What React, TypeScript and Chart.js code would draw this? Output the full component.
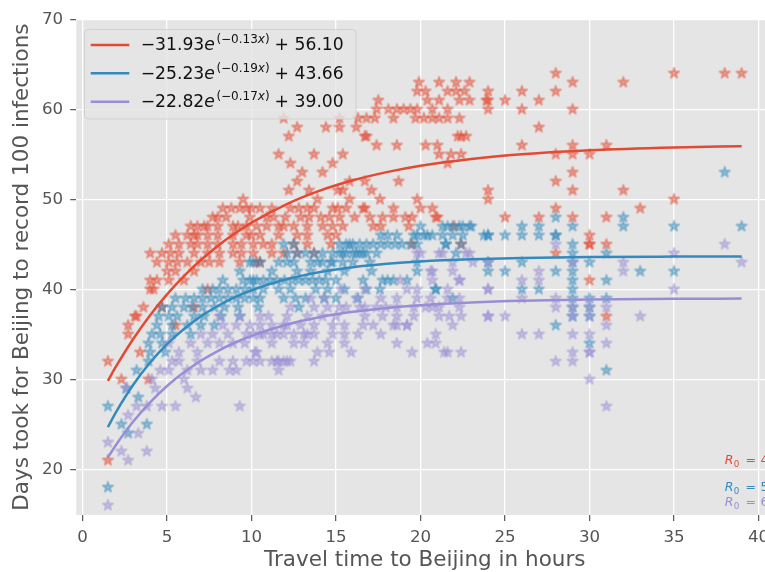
import React, { useEffect, useRef } from "react";
import { Chart, registerables } from "chart.js";

Chart.register(...registerables);

// ---------- data ----------
const xTicks = [0, 5, 10, 15, 20, 25, 30, 35, 40];
const yTicks = [20, 30, 40, 50, 60, 70];

// rows: [days, [travel hours ...]]
const redRows: [number, number[]][] = [
  [64, [28, 35, 38, 39]],
  [63, [19.9, 21.1, 22.1, 22.9, 29, 32]],
  [62, [19.8, 20.3, 21.6, 22.1, 22.6, 24, 26, 28]],
  [61, [17.5, 20.4, 21.1, 22.3, 22.9, 23.9, 24, 25, 27]],
  [60, [17.4, 18.1, 18.6, 19.0, 19.4, 19.8, 20.7, 21.6, 24, 26, 29]],
  [59, [11.9, 15.2, 16.3, 16.8, 17.3, 18.4, 19.7, 20.2, 20.7, 21.1, 21.6, 22.3]],
  [58, [12.7, 14.4, 15.2, 16.2, 27]],
  [57, [12.2, 16.7, 16.8, 22.2, 22.4, 22.7]],
  [56, [17.4, 18.6, 20.3, 21.0, 26, 29, 31]],
  [55, [11.6, 13.7, 15.4, 21.1, 21.8, 22.4, 28, 29, 30]],
  [54, [12.3, 14.8, 21.6]],
  [53, [13.0, 14.2, 29]],
  [52, [12.7, 15.8, 16.7, 18.7, 28]],
  [51, [12.2, 13.4, 15.1, 15.4, 17.1, 24, 29, 32]],
  [50, [9.5, 13.9, 15.8, 17.6, 19.8, 24, 35]],
  [49, [8.3, 8.8, 9.3, 9.7, 10.0, 10.5, 11.2, 12.3, 12.8, 13.3, 13.7, 14.8, 15.1, 15.6, 16.6, 16.7, 18.4, 20.0, 20.7, 28, 33]],
  [48, [7.7, 8.0, 8.5, 9.9, 10.9, 11.3, 12.0, 12.9, 13.4, 14.1, 14.6, 15.2, 16.1, 17.0, 17.75, 18.4, 19.1, 19.5, 20.9, 21.0, 25, 27, 29, 31]],
  [47, [6.4, 6.8, 7.2, 7.4, 8.0, 8.9, 9.2, 9.7, 10.3, 10.9, 11.6, 11.9, 12.5, 13.3, 14.2, 14.8, 15.4, 17.2, 17.65, 19.3, 22.0]],
  [46, [5.5, 6.2, 6.6, 6.8, 7.4, 8.0, 8.9, 9.7, 10.0, 10.5, 11.6, 12.7, 13.3, 14.5, 15.0, 30]],
  [45, [5.1, 5.7, 6.4, 6.8, 7.4, 8.0, 8.9, 9.4, 10.1, 10.7, 11.2, 12.5, 13.3, 14.7, 19.5, 22.4, 30, 30, 31]],
  [44, [4.0, 4.7, 5.2, 5.7, 6.6, 7.4, 8.1, 8.9, 9.4, 10.1, 11.2, 11.9, 12.7, 13.7, 28]],
  [43, [4.4, 5.1, 5.6, 6.2, 7.0, 7.5, 8.1, 9.3, 10.3, 10.5]],
  [42, [5.0, 5.5, 6.6]],
  [41, [4.0, 4.4, 5.1, 6.0, 30]],
  [40, [4.0, 4.2, 7.4]],
  [38, [3.6, 4.7, 6.6]],
  [37, [3.1, 3.2, 31]],
  [36, [2.7, 5.5]],
  [35, [2.7]],
  [33, [3.4]],
  [32, [1.5]],
  [30, [2.3, 3.9]],
  [21, [1.5]],
];

const blueRows: [number, number[]][] = [
  [53, [38]],
  [48, [28, 32]],
  [47, [20.0, 21.3, 21.6, 21.9, 22.3, 22.5, 22.9, 23.0, 26, 27, 29, 32, 35, 39]],
  [46, [17.65, 18.05, 18.6, 19.6, 19.8, 20.2, 20.4, 20.7, 21.3, 21.9, 22.5, 23.75, 24, 24, 25, 26, 27, 28, 28]],
  [45, [11.9, 12.5, 15.2, 15.6, 15.8, 16.0, 16.4, 16.8, 17.2, 17.65, 18.05, 18.5, 18.9, 19.4, 19.8, 21.5, 21.5, 22.4, 29]],
  [44, [12.1, 12.7, 13.2, 13.7, 14.2, 14.8, 15.2, 15.4, 15.6, 16.0, 16.2, 16.4, 16.6, 16.8, 17.4, 22.1, 29, 31]],
  [43, [9.9, 10.1, 10.5, 11.6, 12.1, 12.5, 13.5, 13.9, 14.2, 14.7, 14.8, 15.4, 16.0, 17.0, 19.8, 24, 26, 29, 30]],
  [42, [9.3, 11.2, 12.7, 13.5, 14.5, 15.5, 17.1, 19.8, 24, 25, 28, 29, 33, 35]],
  [41, [8.3, 9.5, 9.9, 10.1, 10.3, 10.7, 11.1, 11.5, 11.95, 12.4, 12.8, 13.2, 13.6, 14.0, 14.4, 15.0, 16.6, 17.75, 18.05, 18.4, 19.2, 29, 31]],
  [40, [7.1, 7.7, 8.1, 8.6, 9.1, 9.6, 10.1, 10.7, 11.6, 12.3, 13.8, 14.5, 15.5, 16.8, 17.6, 20.9, 20.9, 26, 27, 29]],
  [39, [5.5, 6.1, 6.6, 7.1, 7.6, 8.1, 8.6, 9.1, 9.6, 10.1, 10.5, 11.9, 12.6, 13.2, 14.3, 15.0, 16.3, 21.9, 29, 30, 31]],
  [38, [4.7, 5.3, 6.0, 6.5, 7.1, 7.8, 8.4, 9.2, 10.4, 12.8, 29, 30]],
  [37, [4.5, 5.1, 5.6, 6.6, 7.2, 8.2, 9.3, 29, 30]],
  [36, [4.4, 5.3, 6.2, 7.0, 7.8, 28]],
  [35, [4.1, 4.6, 5.3, 6.4]],
  [34, [3.9, 4.7, 30]],
  [33, [4.0, 4.9]],
  [32, [3.9]],
  [31, [3.2, 31]],
  [29, [2.6]],
  [28, [3.3]],
  [27, [1.5]],
  [25, [2.3, 3.8]],
  [24, [2.7]],
  [18, [1.5]],
];

const purpleRows: [number, number[]][] = [
  [45, [38, 28]],
  [44, [19.8, 20.0, 21.1, 21.3, 22.7, 22.9, 35]],
  [43, [21.9, 23.1, 24, 29, 32, 39]],
  [42, [20.6, 20.7, 21.9, 27, 32]],
  [41, [18.8, 20.7, 22.3, 22.3, 26, 27]],
  [40, [15.3, 16.7, 19.2, 19.8, 21.6, 24, 24, 35]],
  [39, [13.5, 14.3, 16.2, 17.65, 18.6, 19.8, 20.6, 21.6, 22.3, 26, 28]],
  [38, [12.3, 13.7, 14.5, 15.2, 15.6, 16.4, 16.7, 17.4, 17.95, 18.6, 19.6, 20.3, 20.7, 21.1, 22.3, 28, 29, 30, 31]],
  [37, [8.1, 9.3, 10.5, 11.0, 12.1, 13.3, 14.2, 15.0, 16.7, 17.75, 18.6, 19.6, 21.1, 21.7, 22.4, 24, 24, 25, 29, 30, 33]],
  [36, [8.3, 9.1, 9.9, 10.5, 11.2, 11.9, 12.1, 12.9, 13.7, 14.8, 15.5, 16.6, 17.2, 18.4, 18.6, 19.2, 19.2, 21.9, 31]],
  [35, [7.0, 7.7, 8.6, 9.7, 10.1, 10.5, 10.7, 11.2, 11.5, 11.9, 12.5, 13.1, 13.3, 13.7, 14.8, 15.5, 16.3, 17.65, 20.9, 26, 27, 29, 30]],
  [34, [5.1, 6.4, 7.4, 8.1, 8.9, 9.6, 11.2, 12.5, 13.1, 14.5, 15.5, 18.6, 20.4, 20.9, 31]],
  [33, [5.7, 6.8, 10.2, 10.3, 13.9, 14.6, 15.9, 19.5, 21.4, 21.6, 22.4, 29, 30, 30]],
  [32, [5.3, 5.7, 6.8, 8.1, 8.9, 9.7, 10.1, 10.5, 11.2, 11.5, 11.6, 11.9, 12.1, 12.3, 13.7, 28, 29]],
  [31, [4.6, 5.1, 6.2, 7.0, 7.7, 8.7, 9.1, 11.6]],
  [30, [4.1, 6.0, 30]],
  [29, [2.6, 4.3, 6.2]],
  [28, [6.7]],
  [27, [3.2, 3.8, 4.7, 5.5, 9.3, 31]],
  [26, [2.7]],
  [24, [3.3]],
  [23, [1.5]],
  [22, [2.3, 3.8]],
  [21, [2.7]],
  [16, [1.5]],
];

// fitted curves read at these travel times
const curveX = [1.5, 2, 3, 4, 5, 6, 7, 8, 9, 10, 12, 14, 16, 18, 20, 23, 26, 30, 35, 39];
const redCurve = [29.83, 31.48, 34.48, 37.12, 39.43, 41.46, 43.25, 44.81, 46.19, 47.4, 49.39, 50.93, 52.11, 53.02, 53.73, 54.49, 55.01, 55.45, 55.76, 55.9];
const blueCurve = [24.69, 26.41, 29.39, 31.86, 33.9, 35.59, 36.99, 38.14, 39.1, 39.89, 41.08, 41.9, 42.45, 42.83, 43.1, 43.34, 43.48, 43.58, 43.63, 43.65];
const purpleCurve = [21.32, 22.76, 25.3, 27.44, 29.25, 30.77, 32.06, 33.14, 34.06, 34.83, 36.03, 36.89, 37.5, 37.93, 38.24, 38.54, 38.73, 38.86, 38.94, 38.97];

const seriesColors = ["#E24A33", "#348ABD", "#988ED5"];
const fitA = ["31.93", "25.23", "22.82"];
const fitB = ["0.13", "0.19", "0.17"];
const fitC = ["56.10", "43.66", "39.00"];
const r0Values = ["4", "5", "6"];
const r0X = 38;
const r0Y = [20.55, 17.55, 15.95];

const xTitle = "Travel time to Beijing in hours";
const yTitle = "Days took for Beijing to record 100 infections";

// ---------- helpers ----------
const FONT = '"DejaVu Sans"';

function toPoints(rows: [number, number[]][]) {
  const pts: { x: number; y: number }[] = [];
  rows.forEach(([y, xs]) => xs.forEach((x) => pts.push({ x, y })));
  return pts;
}

function curvePoints(ys: number[]) {
  return curveX.map((x, i) => ({ x, y: ys[i] }));
}

function makeStar(color: string) {
  const c = document.createElement("canvas");
  c.width = 18;
  c.height = 18;
  const ctx = c.getContext("2d")!;
  const R = 5.4;
  const r = R * 0.381966;
  ctx.beginPath();
  for (let i = 0; i < 10; i++) {
    const rad = i % 2 === 0 ? R : r;
    const a = -Math.PI / 2 + (i * Math.PI) / 5;
    const px = 9 + rad * Math.cos(a);
    const py = 9 + rad * Math.sin(a);
    if (i === 0) ctx.moveTo(px, py);
    else ctx.lineTo(px, py);
  }
  ctx.closePath();
  ctx.globalAlpha = 0.42;
  ctx.fillStyle = color;
  ctx.fill();
  ctx.lineWidth = 2;
  ctx.lineJoin = "round";
  ctx.strokeStyle = color;
  ctx.stroke();
  return c;
}

const bgPlugin = {
  id: "bgPlugin",
  beforeDraw(chart: any) {
    const { ctx, chartArea } = chart;
    ctx.save();
    ctx.fillStyle = "#E5E5E5";
    ctx.fillRect(chartArea.left, chartArea.top, chartArea.right - chartArea.left, chartArea.bottom - chartArea.top);
    ctx.restore();
  },
};

function drawLegend(ctx: CanvasRenderingContext2D) {
  ctx.save();
  ctx.beginPath();
  (ctx as any).roundRect(84.5, 29.5, 271.5, 89.5, 4);
  ctx.fillStyle = "rgba(229,229,229,0.8)";
  ctx.fill();
  ctx.strokeStyle = "rgba(204,204,204,0.8)";
  ctx.lineWidth = 1;
  ctx.stroke();
  const F = 17.2;
  const S = 12;
  for (let i = 0; i < 3; i++) {
    const lineY = 45 + i * 28.35;
    const base = 50.2 + i * 28.35;
    ctx.strokeStyle = seriesColors[i];
    ctx.lineWidth = 2.5;
    ctx.beginPath();
    ctx.moveTo(90.7, lineY);
    ctx.lineTo(129.3, lineY);
    ctx.stroke();

    ctx.fillStyle = "#111";
    ctx.textBaseline = "alphabetic";
    ctx.textAlign = "left";
    let x = 140.7;
    ctx.font = `${F}px ${FONT}`;
    const t1 = "\u2212" + fitA[i];
    ctx.fillText(t1, x, base);
    x += ctx.measureText(t1).width;
    ctx.font = `italic ${F}px ${FONT}`;
    ctx.fillText("e", x, base);
    x += ctx.measureText("e").width + 1.5;
    const sb = base - 6.8;
    ctx.font = `${S}px ${FONT}`;
    const s1 = "(\u2212" + fitB[i];
    ctx.fillText(s1, x, sb);
    x += ctx.measureText(s1).width;
    ctx.font = `italic ${S}px ${FONT}`;
    ctx.fillText("x", x, sb);
    x += ctx.measureText("x").width;
    ctx.font = `${S}px ${FONT}`;
    ctx.fillText(")", x, sb);
    x += ctx.measureText(")").width + 5;
    ctx.font = `${F}px ${FONT}`;
    ctx.fillText("+", x, base);
    x += ctx.measureText("+").width + 5.5;
    ctx.fillText(fitC[i], x, base);
  }
  ctx.restore();
}

function drawR0(chart: any) {
  const { ctx, scales } = chart;
  ctx.save();
  ctx.textBaseline = "alphabetic";
  ctx.textAlign = "left";
  for (let i = 0; i < 3; i++) {
    let x = scales.x.getPixelForValue(r0X);
    const y = scales.y.getPixelForValue(r0Y[i]);
    ctx.fillStyle = seriesColors[i];
    ctx.font = `italic 12.5px ${FONT}`;
    ctx.fillText("R", x, y);
    x += ctx.measureText("R").width + 0.3;
    ctx.font = `8.75px ${FONT}`;
    ctx.fillText("0", x, y + 2.8);
    x += ctx.measureText("0").width + 6.2;
    ctx.font = `12.5px ${FONT}`;
    ctx.fillText("=", x, y);
    x += ctx.measureText("=").width + 4.5;
    ctx.fillText(r0Values[i], x, y);
  }
  ctx.restore();
}

const textPlugin = {
  id: "textPlugin",
  afterDraw(chart: any) {
    drawR0(chart);
    drawLegend(chart.ctx);
  },
};

export default function App() {
  const ref = useRef<HTMLCanvasElement | null>(null);

  useEffect(() => {
    if (!ref.current) return;
    const stars = seriesColors.map((c) => makeStar(c));
    const rowsList = [redRows, blueRows, purpleRows];
    const curves = [redCurve, blueCurve, purpleCurve];

    const scatterSets = rowsList.map((rows, i) => ({
      type: "scatter" as const,
      data: toPoints(rows),
      pointStyle: stars[i] as any,
      pointRadius: 6,
      pointHoverRadius: 6,
      showLine: false,
      order: 3 - i,
    }));
    const lineSets = curves.map((ys, i) => ({
      type: "scatter" as const,
      data: curvePoints(ys),
      showLine: true,
      borderColor: seriesColors[i],
      backgroundColor: seriesColors[i],
      borderWidth: 2.5,
      pointRadius: 0,
      pointHoverRadius: 0,
      cubicInterpolationMode: "monotone" as const,
      fill: false,
      order: 0,
    }));

    const tickFont = { family: FONT, size: 16.67 };
    const titleFont = { family: FONT, size: 21.5 };
    const chart = new Chart(ref.current, {
      type: "scatter",
      data: { datasets: [...scatterSets, ...lineSets] as any },
      options: {
        animation: false,
        responsive: false,
        devicePixelRatio: 1,
        events: [],
        layout: { padding: { top: 19.3, right: 26.7, left: 0, bottom: 0 } },
        plugins: { legend: { display: false }, tooltip: { enabled: false } },
        scales: {
          x: {
            type: "linear",
            min: -0.375,
            max: 40.875,
            afterBuildTicks: (s: any) => {
              s.ticks = xTicks.map((v) => ({ value: v }));
            },
            afterFit: (s: any) => {
              s.height = 57;
              s.paddingLeft = 0;
              s.paddingRight = 0;
            },
            grid: { color: "#FFFFFF", lineWidth: 1.3, tickLength: 6, tickColor: "#555555", tickWidth: 1.2 },
            border: { display: false },
            ticks: { color: "#555555", font: tickFont, padding: 7, maxRotation: 0, autoSkip: false },
            title: { display: true, text: xTitle, color: "#555555", font: titleFont, padding: { top: 0, bottom: -1 } },
          },
          y: {
            type: "linear",
            min: 14.92,
            max: 70,
            afterBuildTicks: (s: any) => {
              s.ticks = yTicks.map((v) => ({ value: v }));
            },
            afterFit: (s: any) => {
              s.width = 76.2;
              s.paddingTop = 0;
              s.paddingBottom = 0;
            },
            grid: { color: "#FFFFFF", lineWidth: 1.3, tickLength: 6, tickColor: "#555555", tickWidth: 1.2 },
            border: { display: false },
            ticks: { color: "#555555", font: tickFont, padding: 7 },
            title: { display: true, text: yTitle, color: "#555555", font: titleFont, padding: { top: 10, bottom: 0 } },
          },
        },
      },
      plugins: [bgPlugin, textPlugin],
    });
    return () => chart.destroy();
  }, []);

  return (
    <div style={{ position: "fixed", left: 0, top: 0, width: 765, height: 572, overflow: "hidden", background: "#fff" }}>
      <canvas ref={ref} width={800} height={572} style={{ width: 800, height: 572, display: "block" }} />
    </div>
  );
}
